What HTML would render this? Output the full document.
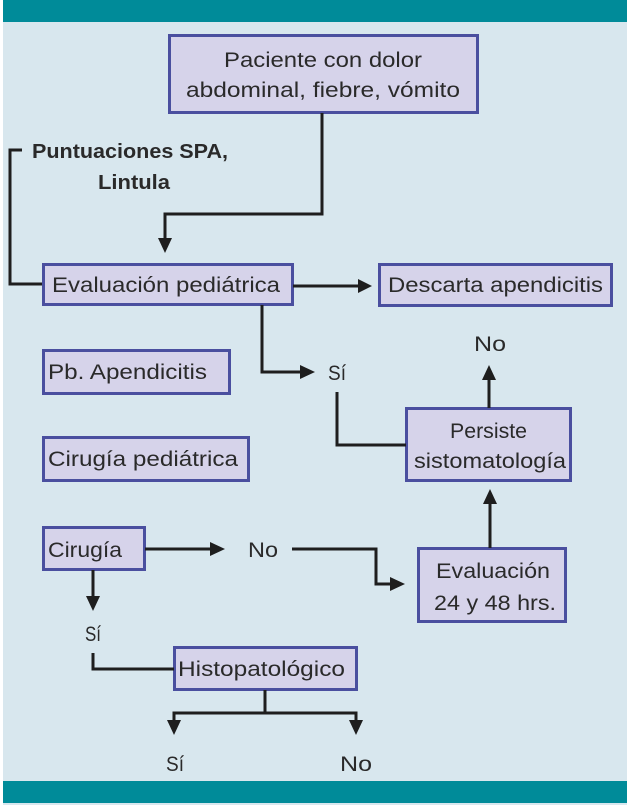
<!DOCTYPE html>
<html><head><meta charset="utf-8"><style>
html,body{margin:0;padding:0;}
body{width:627px;height:805px;background:#fff;position:relative;overflow:hidden;font-family:"Liberation Sans",sans-serif;}
</style></head><body>
<svg width="627" height="805" viewBox="0 0 627 805" xmlns="http://www.w3.org/2000/svg" style="position:absolute;left:0;top:0">
<rect x="3" y="0" width="624" height="805" fill="#d8e7ee"/>
<rect x="3" y="0" width="624" height="22" fill="#008b99"/>
<rect x="3" y="781" width="624" height="22" fill="#008b99"/>
<g fill="#d6d3ea" stroke="#4a4f9f" stroke-width="3">
<rect x="169.5" y="35.5" width="308" height="77"/>
<rect x="43.5" y="264.5" width="249" height="40"/>
<rect x="379.5" y="264.5" width="232" height="41"/>
<rect x="43.5" y="350.5" width="186" height="43"/>
<rect x="43.5" y="437.5" width="205" height="43"/>
<rect x="406.5" y="408.5" width="164" height="72"/>
<rect x="43.5" y="527.5" width="101" height="42"/>
<rect x="418.5" y="548.5" width="147" height="73"/>
<rect x="174.5" y="647.5" width="182" height="42"/>
</g>
<g fill="none" stroke="#1e1e1e" stroke-width="3">
<polyline points="22,150 10,150 10,284 42,284"/>
<polyline points="322,113 322,214 165,214 165,240"/>
<line x1="293" y1="286" x2="360" y2="286"/>
<polyline points="262,305 262,372 302,372"/>
<polyline points="337,392 337,445 406,445"/>
<line x1="489" y1="408" x2="489" y2="378"/>
<line x1="490" y1="548" x2="490" y2="502"/>
<line x1="145" y1="549" x2="212" y2="549"/>
<polyline points="292,549 376,549 376,584 392,584"/>
<line x1="93" y1="570" x2="93" y2="598"/>
<polyline points="93,653 93,669 174,669"/>
<polyline points="265,690 265,713"/>
<polyline points="174,722 174,713 356,713 356,722"/>
</g>
<g fill="#1e1e1e">
<path d="M158,238 L172,238 L165,253 Z"/>
<path d="M358,279 L358,293 L372,286 Z"/>
<path d="M300,365 L300,379 L315,372 Z"/>
<path d="M482,380 L496,380 L489,365 Z"/>
<path d="M483,504 L497,504 L490,489 Z"/>
<path d="M210,542 L210,556 L225,549 Z"/>
<path d="M390,577 L390,591 L405,584 Z"/>
<path d="M86,596 L100,596 L93,611 Z"/>
<path d="M167,720 L181,720 L174,735 Z"/>
<path d="M349,720 L363,720 L356,735 Z"/>
</g>
<g font-family="Liberation Sans, sans-serif" font-size="21" fill="#2a2a2a" lengthAdjust="spacingAndGlyphs">
<text x="224" y="67" textLength="198" lengthAdjust="spacingAndGlyphs">Paciente con dolor</text>
<text x="186" y="97" textLength="274" lengthAdjust="spacingAndGlyphs">abdominal, fiebre, vómito</text>
<text x="32" y="158" font-weight="bold" font-size="20" textLength="196" lengthAdjust="spacingAndGlyphs">Puntuaciones SPA,</text>
<text x="98" y="189" font-weight="bold" font-size="20" textLength="72" lengthAdjust="spacingAndGlyphs">Lintula</text>
<text x="52" y="292" textLength="228" lengthAdjust="spacingAndGlyphs">Evaluación pediátrica</text>
<text x="388" y="292" textLength="215" lengthAdjust="spacingAndGlyphs">Descarta apendicitis</text>
<text x="474" y="351" textLength="32" lengthAdjust="spacingAndGlyphs">No</text>
<text x="328" y="380" textLength="18" lengthAdjust="spacingAndGlyphs">Sí</text>
<text x="48" y="379" textLength="159" lengthAdjust="spacingAndGlyphs">Pb. Apendicitis</text>
<text x="450" y="438" textLength="77" lengthAdjust="spacingAndGlyphs">Persiste</text>
<text x="414" y="468" textLength="152" lengthAdjust="spacingAndGlyphs">sistomatología</text>
<text x="48" y="466" textLength="190" lengthAdjust="spacingAndGlyphs">Cirugía pediátrica</text>
<text x="48" y="557" textLength="74" lengthAdjust="spacingAndGlyphs">Cirugía</text>
<text x="248" y="557" textLength="30" lengthAdjust="spacingAndGlyphs">No</text>
<text x="436" y="578" textLength="114" lengthAdjust="spacingAndGlyphs">Evaluación</text>
<text x="434" y="610" textLength="122" lengthAdjust="spacingAndGlyphs">24 y 48 hrs.</text>
<text x="85" y="641" textLength="16" lengthAdjust="spacingAndGlyphs">Sí</text>
<text x="178" y="676" textLength="167" lengthAdjust="spacingAndGlyphs">Histopatológico</text>
<text x="166" y="771" textLength="18" lengthAdjust="spacingAndGlyphs">Sí</text>
<text x="340" y="771" textLength="32" lengthAdjust="spacingAndGlyphs">No</text>
</g>
</svg>
</body></html>
